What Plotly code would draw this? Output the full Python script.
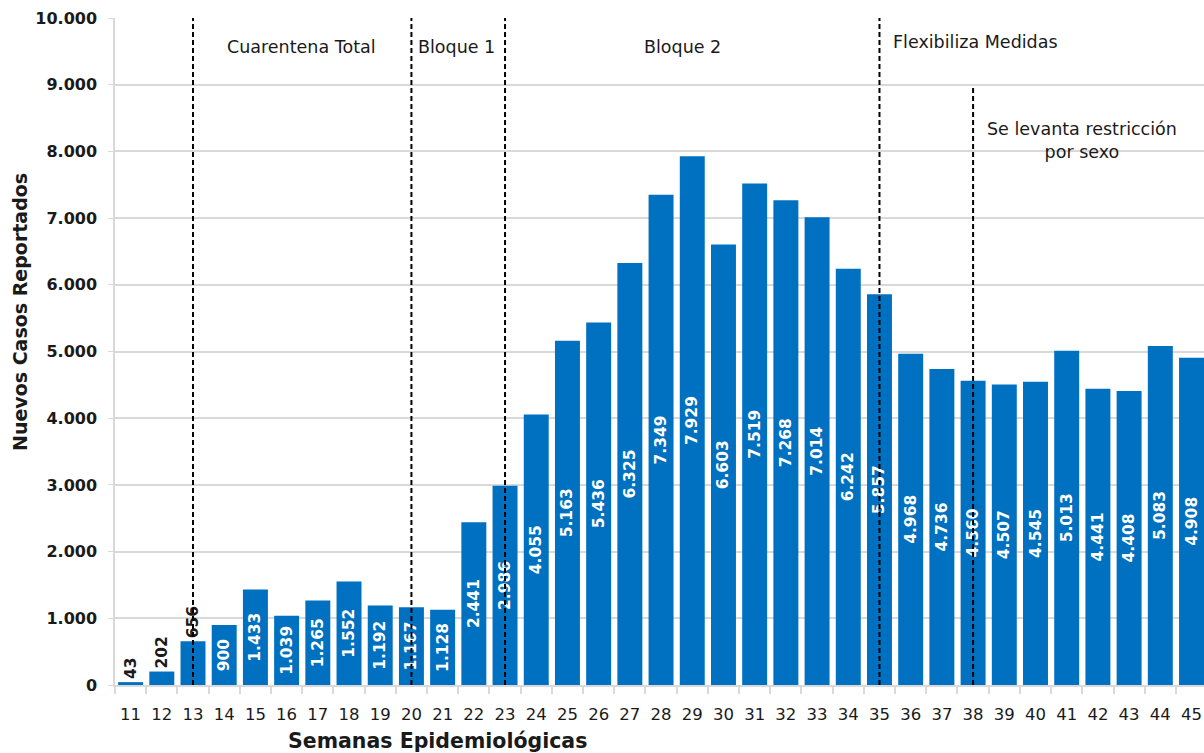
import plotly.graph_objects as go

# Semanas epidemiológicas y nuevos casos reportados
semanas = [str(s) for s in range(11, 46)]
casos = [43, 202, 656, 900, 1433, 1039, 1265, 1552, 1192, 1167,
         1128, 2441, 2986, 4055, 5163, 5436, 6325, 7349, 7929, 6603,
         7519, 7268, 7014, 6242, 5857, 4968, 4736, 4560, 4507, 4545,
         5013, 4441, 4408, 5083, 4908]

# Semanas que marcan cambios de medidas (línea punteada) y su altura superior
hitos_semana = [13, 20, 23, 35, 38]
hitos_tope = [10000, 10000, 10000, 10000, 8960]

# Rótulos de las etapas: texto, semana (posición), altura, anclaje
etapas_texto = ["Cuarentena Total", "Bloque 1", "Bloque 2",
                "Flexibiliza Medidas", "Se levanta restricción<br>por sexo"]
etapas_semana = [16.48, 21.45, 28.7, 35.38, 41.48]
etapas_y = [9565, 9565, 9565, 9640, 8170]
etapas_anchor = ["center", "center", "center", "left", "center"]

AZUL = "#0070C0"
GRIS = "#D9D9D9"
TEXTO = "#1a1a1a"
FUENTE = "DejaVu Sans"


def miles(v):
    return f"{v:,}".replace(",", ".")


pos_texto = ["outside" if v < 800 else "inside" for v in casos]

fig = go.Figure()
fig.add_trace(go.Bar(
    x=semanas,
    y=casos,
    marker=dict(color=AZUL, line=dict(width=0)),
    text=[miles(v) for v in casos],
    textposition=pos_texto,
    textangle=-90,
    insidetextanchor="middle",
    insidetextfont=dict(family=FUENTE, size=15.5, color="white", weight="bold"),
    outsidetextfont=dict(family=FUENTE, size=15.5, color=TEXTO, weight="bold"),
    constraintext="none",
    cliponaxis=False,
    hoverinfo="skip",
))

idx = {s: i for i, s in enumerate(range(11, 46))}

for sem, tope in zip(hitos_semana, hitos_tope):
    fig.add_shape(
        type="line", xref="x", yref="y",
        x0=idx[sem], x1=idx[sem], y0=0, y1=tope,
        line=dict(color="black", width=2, dash="5px,3px"),
        layer="above",
    )

for txt, sem, yv, anc in zip(etapas_texto, etapas_semana, etapas_y, etapas_anchor):
    fig.add_annotation(
        x=sem - 11, y=yv, xref="x", yref="y",
        text=txt, showarrow=False, xanchor=anc, yanchor="middle",
        font=dict(family=FUENTE, size=17.5, color=TEXTO),
        align="center",
    )

# Títulos de ejes
fig.add_annotation(
    x=(437 - 115) / 1089, y=-(741 - 685) / 667, xref="paper", yref="paper",
    text="<b>Semanas Epidemiológicas</b>", showarrow=False,
    xanchor="center", yanchor="middle",
    font=dict(family=FUENTE, size=20.5, color=TEXTO),
)
fig.add_annotation(
    x=(20 - 115) / 1089, y=(685 - 312) / 667, xref="paper", yref="paper",
    text="<b>Nuevos Casos Reportados</b>", showarrow=False, textangle=-90,
    xanchor="center", yanchor="middle",
    font=dict(family=FUENTE, size=19, color=TEXTO),
)

fig.update_layout(
    width=1204, height=753,
    margin=dict(l=115, r=0, t=18, b=68, autoexpand=False),
    paper_bgcolor="white", plot_bgcolor="white",
    separators=",.",
    bargap=0.2,
    showlegend=False,
    font=dict(family=FUENTE, color=TEXTO),
)
fig.update_xaxes(
    type="category",
    range=[-0.5, 34.4],
    showgrid=False,
    showline=True, linecolor=GRIS, linewidth=2,
    ticks="outside", tickson="boundaries", ticklen=7, tickcolor=GRIS, tickwidth=2,
    tickfont=dict(family=FUENTE, size=16.5, color=TEXTO),
    tickangle=0,
    ticklabelstandoff=13,
)
fig.update_yaxes(
    range=[0, 10000], dtick=1000, tickformat=",d",
    showgrid=True, gridcolor=GRIS, gridwidth=1.5,
    showline=True, linecolor=GRIS, linewidth=1.5,
    ticks="outside", ticklen=5, tickcolor=GRIS,
    tickfont=dict(family=FUENTE, size=16, color=TEXTO, weight="bold"),
    ticklabelstandoff=8,
    zeroline=False,
)

fig.write_html("out.html")
